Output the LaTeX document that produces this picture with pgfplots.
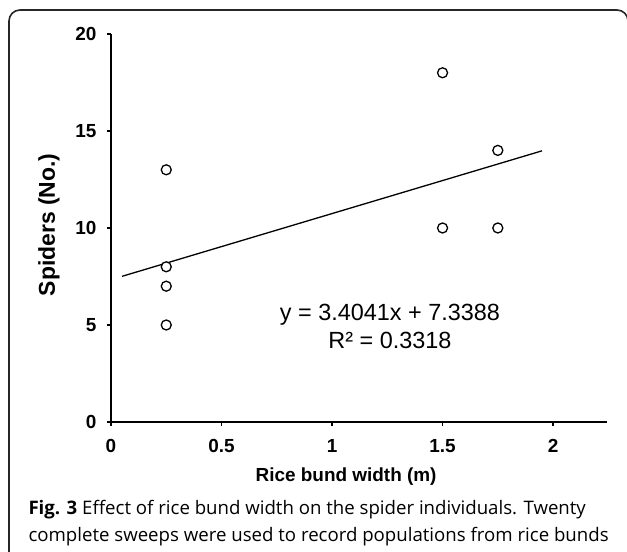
\documentclass[border=0pt]{standalone}
\usepackage{fontspec}
\setmainfont{Liberation Sans}
\newfontfamily\capfont{Open Sans}
\usepackage{pgfplots}
\pgfplotsset{compat=1.18}
\begin{document}
\begin{tikzpicture}[x=1bp,y=1bp]
\useasboundingbox (0,0) rectangle (627,552);
\draw[line width=1.6bp, color=black!85, rounded corners=11bp] (9,-30) rectangle (628,542);
\begin{axis}[
  at={(111bp,130bp)}, anchor=south west,
  scale only axis, width=496bp, height=388bp,
  xmin=0, xmax=2.244, ymin=0, ymax=20,
  axis lines=left, axis line style={-, line width=1.8bp, black},
  xtick={0,0.5,1,1.5,2}, ytick={0,5,10,15,20},
  tick align=outside, major tick length=4bp,
  tick style={line width=1.8bp, black},
  /pgf/number format/assume math mode=true,
  ticklabel style={font=\bfseries\fontsize{19}{19}\selectfont},
  xticklabel style={yshift=-10bp},
  yticklabel style={xshift=-7bp},
  xlabel={Rice bund width (m)},
  ylabel={Spiders (No.)},
  xlabel style={font=\bfseries\fontsize{19}{19}\selectfont, at={(axis description cs:0.474,-0.14)}, anchor=center},
  ylabel style={font=\bfseries\fontsize{23}{23}\selectfont, at={(axis description cs:-0.125,0.508)}, anchor=center},
  clip=false,
]
\addplot[line width=1.3bp, black] coordinates {(0.05,7.509) (1.95,13.977)};
\addplot[only marks, mark=*, mark size=5bp, mark options={fill=white, draw=black, line width=1.3bp}] coordinates {
  (0.25,13) (0.25,8) (0.25,7) (0.25,5) (1.5,18) (1.5,10) (1.75,14) (1.75,10)
};
\node[anchor=base, font=\fontsize{23.5}{23.5}\selectfont] at (axis cs:1.262,5.21) {y = 3.4041x + 7.3388};
\node[anchor=base, font=\fontsize{23.5}{23.5}\selectfont] at (axis cs:1.262,3.81) {R² = 0.3318};
\end{axis}
\node[anchor=base west, font=\capfont\fontsize{18.7}{27}\selectfont] at (25,37) {\textbf{Fig. 3} Effect of rice bund width on the spider individuals. Twenty};
\node[anchor=base west, font=\capfont\fontsize{18.7}{27}\selectfont] at (25,10) {complete sweeps were used to record populations from rice bunds};
\end{tikzpicture}
\end{document}
